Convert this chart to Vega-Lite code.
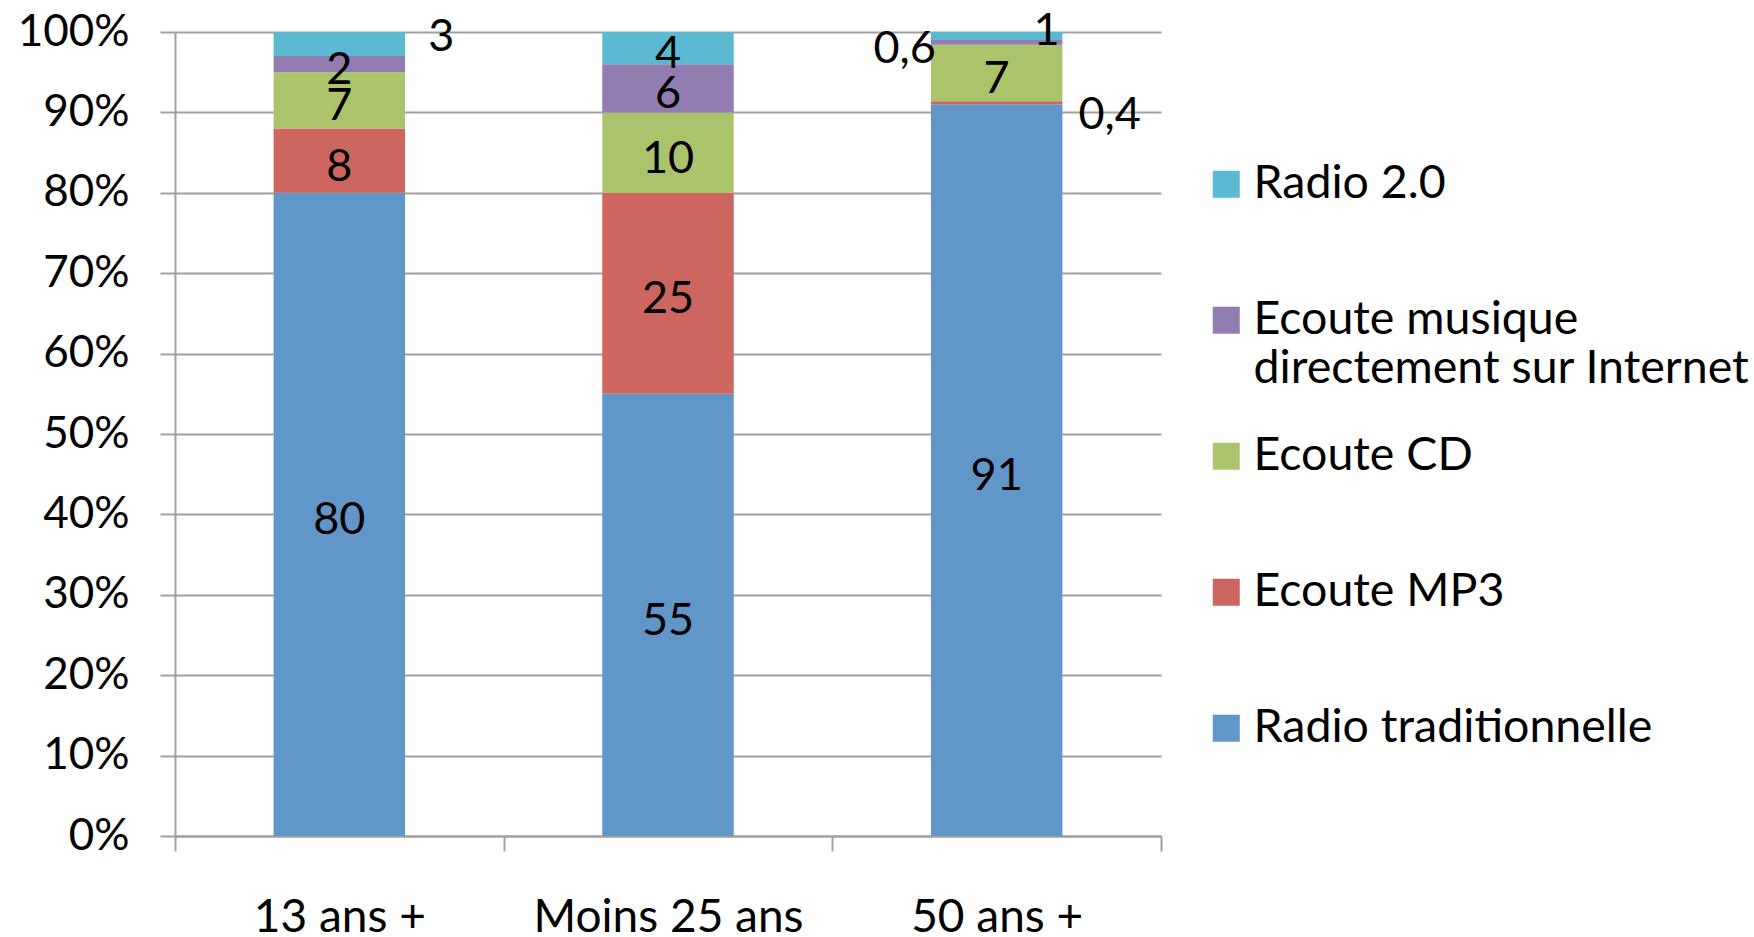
{
  "$schema": "https://vega.github.io/schema/vega-lite/v6.json",
  "width": 986,
  "height": 804,
  "autosize": {"type": "none"},
  "padding": {"left": 175, "top": 32, "right": 593, "bottom": 101},
  "background": "white",
  "config": {
    "view": {"stroke": null},
    "font": "Lato",
    "locale": {"number": {"decimal": ",", "thousands": " ", "grouping": [3], "currency": ["", " €"]}}
  },
  "data": {
    "values": [
      {"c": "13 ans +", "s": "Radio traditionnelle", "k": 1, "v": 80},
      {"c": "13 ans +", "s": "Ecoute MP3", "k": 2, "v": 8},
      {"c": "13 ans +", "s": "Ecoute CD", "k": 3, "v": 7},
      {"c": "13 ans +", "s": "Ecoute musique directement sur Internet", "k": 4, "v": 2},
      {"c": "13 ans +", "s": "Radio 2.0", "k": 5, "v": 3},
      {"c": "Moins 25 ans", "s": "Radio traditionnelle", "k": 1, "v": 55},
      {"c": "Moins 25 ans", "s": "Ecoute MP3", "k": 2, "v": 25},
      {"c": "Moins 25 ans", "s": "Ecoute CD", "k": 3, "v": 10},
      {"c": "Moins 25 ans", "s": "Ecoute musique directement sur Internet", "k": 4, "v": 6},
      {"c": "Moins 25 ans", "s": "Radio 2.0", "k": 5, "v": 4},
      {"c": "50 ans +", "s": "Radio traditionnelle", "k": 1, "v": 91},
      {"c": "50 ans +", "s": "Ecoute MP3", "k": 2, "v": 0.4},
      {"c": "50 ans +", "s": "Ecoute CD", "k": 3, "v": 7},
      {"c": "50 ans +", "s": "Ecoute musique directement sur Internet", "k": 4, "v": 0.6},
      {"c": "50 ans +", "s": "Radio 2.0", "k": 5, "v": 1}
    ]
  },
  "transform": [
    {"stack": "v", "groupby": ["c"], "sort": [{"field": "k", "order": "ascending"}], "as": ["y0", "y1"]},
    {"calculate": "(datum.y0 + datum.y1) / 2", "as": "ym"}
  ],
  "encoding": {
    "x": {
      "field": "c",
      "type": "nominal",
      "sort": ["13 ans +", "Moins 25 ans", "50 ans +"],
      "scale": {"paddingInner": 0, "paddingOuter": 0},
      "axis": {
        "title": null,
        "labelAngle": 0,
        "labelFont": "Lato",
        "labelFontSize": 46,
        "labelColor": "black",
        "labelLimit": 500,
        "labelPadding": 44,
        "domainColor": "#A0A0A0",
        "domainWidth": 2,
        "tickColor": "#A0A0A0",
        "tickWidth": 2,
        "tickSize": 15,
        "tickBand": "extent",
        "grid": false
      }
    }
  },
  "layer": [
    {
      "mark": {"type": "bar", "width": {"band": 0.4}},
      "encoding": {
        "y": {
          "field": "y0",
          "type": "quantitative",
          "scale": {"domain": [0, 100], "nice": false},
          "axis": {
            "title": null,
            "values": [0, 10, 20, 30, 40, 50, 60, 70, 80, 90, 100],
            "labelExpr": "datum.value + '%'",
            "labelFont": "Lato",
            "labelFontSize": 44,
            "labelColor": "black",
            "labelPadding": 31,
            "grid": true,
            "gridColor": "#A0A0A0",
            "gridWidth": 2,
            "domainColor": "#A0A0A0",
            "domainWidth": 2,
            "tickColor": "#A0A0A0",
            "tickWidth": 2,
            "tickSize": 15
          }
        },
        "y2": {"field": "y1"},
        "color": {
          "field": "s",
          "type": "nominal",
          "scale": {
            "domain": ["Radio 2.0", "Ecoute musique directement sur Internet", "Ecoute CD", "Ecoute MP3", "Radio traditionnelle"],
            "range": ["#5BB9D1", "#927CB0", "#ABC46C", "#CD665F", "#6096C8"]
          },
          "legend": {
            "title": null,
            "orient": "none",
            "legendX": 1028,
            "legendY": 129,
            "padding": 0,
            "symbolType": "square",
            "symbolSize": 729,
            "symbolStrokeWidth": 0,
            "symbolOpacity": 1,
            "labelFont": "Lato",
            "labelFontSize": 46.5,
            "labelColor": "black",
            "labelLimit": 700,
            "labelOffset": 4,
            "labelBaseline": "middle",
            "rowPadding": 40,
            "labelExpr": "datum.label == 'Ecoute musique directement sur Internet' ? ['Ecoute musique', 'directement sur Internet'] : [datum.label, '']"
          }
        }
      }
    },
    {
      "transform": [{"filter": "!((datum.c == '13 ans +' && datum.s == 'Radio 2.0') || (datum.c == '50 ans +' && datum.k != 1 && datum.k != 3))"}],
      "mark": {"type": "text", "font": "Lato", "fontSize": 45, "color": "black", "baseline": "middle", "dy": 6},
      "encoding": {
        "y": {"field": "ym", "type": "quantitative"},
        "text": {"field": "v", "type": "quantitative", "format": ".1~f"}
      }
    },
    {
      "transform": [{"filter": "datum.c == '13 ans +' && datum.s == 'Radio 2.0'"}],
      "mark": {"type": "text", "font": "Lato", "fontSize": 45, "color": "black", "baseline": "middle", "dx": 102, "dy": -7},
      "encoding": {
        "y": {"field": "ym", "type": "quantitative"},
        "text": {"field": "v", "type": "quantitative", "format": ".1~f"}
      }
    },
    {
      "transform": [{"filter": "datum.c == '50 ans +' && datum.s == 'Ecoute musique directement sur Internet'"}],
      "mark": {"type": "text", "font": "Lato", "fontSize": 45, "color": "black", "baseline": "middle", "dx": -92, "dy": 7},
      "encoding": {
        "y": {"field": "ym", "type": "quantitative"},
        "text": {"field": "v", "type": "quantitative", "format": ".1~f"}
      }
    },
    {
      "transform": [{"filter": "datum.c == '50 ans +' && datum.s == 'Radio 2.0'"}],
      "mark": {"type": "text", "font": "Lato", "fontSize": 45, "color": "black", "baseline": "middle", "dx": 50, "dy": -5},
      "encoding": {
        "y": {"field": "ym", "type": "quantitative"},
        "text": {"field": "v", "type": "quantitative", "format": ".1~f"}
      }
    },
    {
      "transform": [{"filter": "datum.c == '50 ans +' && datum.s == 'Ecoute MP3'"}],
      "mark": {"type": "text", "font": "Lato", "fontSize": 45, "color": "black", "baseline": "middle", "dx": 113, "dy": 12},
      "encoding": {
        "y": {"field": "ym", "type": "quantitative"},
        "text": {"field": "v", "type": "quantitative", "format": ".1~f"}
      }
    }
  ]
}
